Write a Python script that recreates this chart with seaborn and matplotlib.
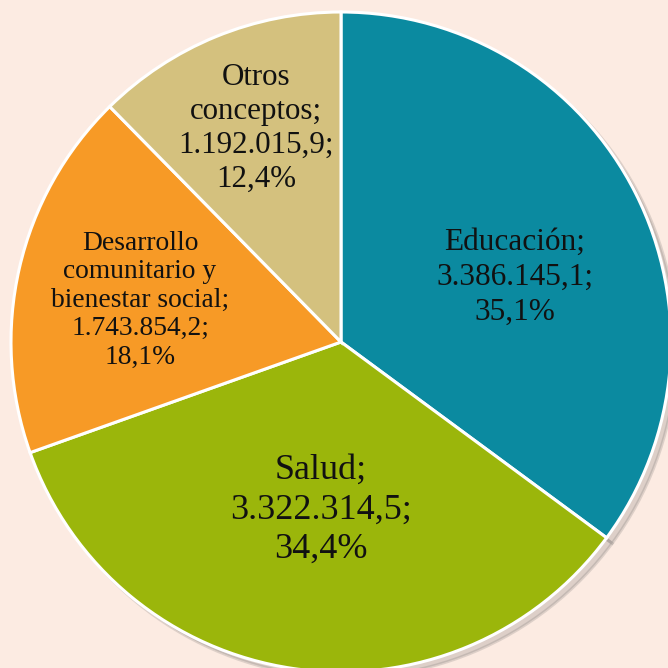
import seaborn as sns
import matplotlib.pyplot as plt

# datos
conceptos = ['Educación', 'Salud', 'Desarrollo\ncomunitario y\nbienestar social', 'Otros\nconceptos']
valores = [3386145.1, 3322314.5, 1743854.2, 1192015.9]
etiquetas_valor = ['3.386.145,1', '3.322.314,5', '1.743.854,2', '1.192.015,9']
porcentajes = ['35,1%', '34,4%', '18,1%', '12,4%']

colores = ['#0B8AA0', '#9BB60B', '#F79A26', '#D4C17E']
fondo = '#FCEBE2'

sns.set_style('white')
plt.rcParams['font.family'] = ['Liberation Serif', 'DejaVu Serif']

fig = plt.figure(figsize=(6.68, 6.68), dpi=100, facecolor=fondo)
ax = fig.add_axes([0, 0, 1, 1])
ax.set_facecolor(fondo)

wedges, _ = ax.pie(valores, colors=colores, startangle=90, counterclock=False,
                   radius=1, wedgeprops={'edgecolor': 'white', 'linewidth': 2.2},
                   shadow={'ox': 0.012, 'oy': -0.012, 'alpha': 0.18, 'color': '#555555'})

# posicion de las etiquetas (fraccion del radio)
pos_etq = [(0.527, 0.197), (-0.061, -0.509), (-0.609, 0.127), (-0.258, 0.647)]
tam = [22.5, 26, 19.8, 22.3]
interl = [1.27, 1.27, 1.18, 1.22]
for c, v, p, (x, y), s, ls in zip(conceptos, etiquetas_valor, porcentajes, pos_etq, tam, interl):
    ax.text(x, y, f'{c};\n{v};\n{p}', ha='center', va='center',
            fontsize=s, color='#111111', linespacing=ls)

# encuadre
r = 330
cx, cy = 341, 326
ax.set_xlim(-cx / r, (668 - cx) / r)
ax.set_ylim(-cy / r, (668 - cy) / r)
ax.set_aspect('equal')
ax.axis('off')

plt.savefig('out.png', dpi=100, facecolor=fondo)
